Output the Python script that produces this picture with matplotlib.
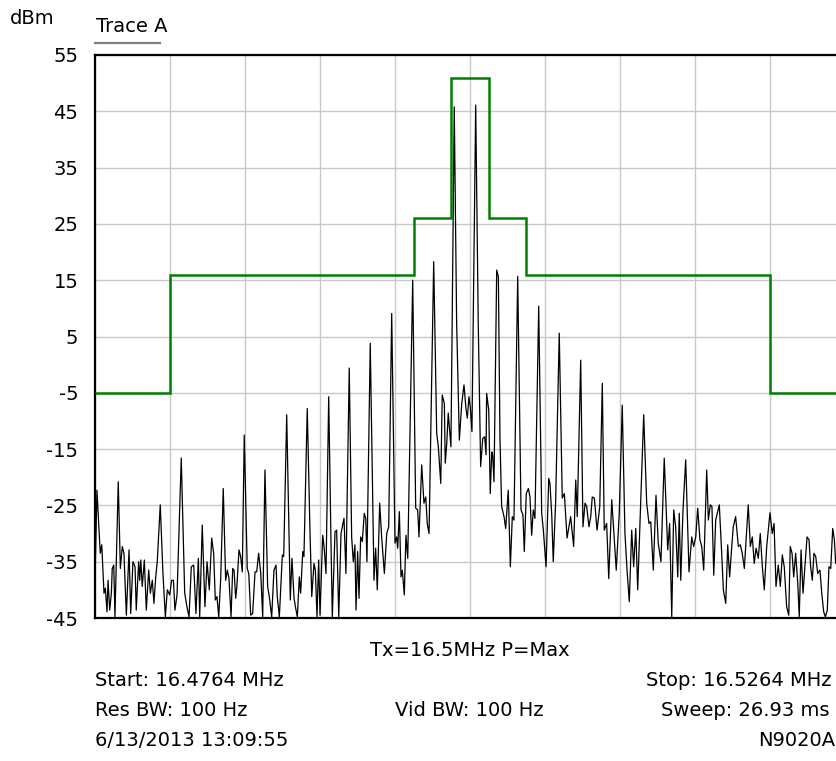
import matplotlib
matplotlib.use("Agg")
import matplotlib.pyplot as plt
from matplotlib.lines import Line2D

# frequency offset from start (kHz) and level (dBm) of the measured trace
trace_khz = [
    0.0, 0.13, 0.35, 0.45, 0.60, 0.69, 0.80, 0.87, 0.98, 1.09, 1.15, 1.25, 1.33, 1.55, 1.69, 1.82,
    1.93, 2.09, 2.27, 2.38, 2.53, 2.67, 2.75, 2.91, 2.98, 3.05, 3.15, 3.29, 3.42, 3.58, 3.69, 3.82,
    3.93, 4.05, 4.15, 4.35, 4.53, 4.69, 4.82, 4.98, 5.11, 5.23, 5.33, 5.47, 5.75, 5.98, 6.13, 6.27,
    6.42, 6.58, 6.73, 6.89, 6.98, 7.15, 7.33, 7.47, 7.62, 7.78, 7.91, 8.02, 8.13, 8.25, 8.38, 8.55,
    8.71, 8.82, 8.93, 9.07, 9.18, 9.27, 9.38, 9.45, 9.60, 9.71, 9.82, 9.95, 10.15, 10.25, 10.38, 10.51,
    10.67, 10.78, 10.91, 11.05, 11.18, 11.33, 11.51, 11.62, 11.78, 11.93, 12.07, 12.15, 12.29, 12.38, 12.49, 12.58,
    12.78, 12.93, 13.02, 13.13, 13.27, 13.38, 13.49, 13.62, 13.71, 13.85, 13.93, 14.15, 14.33, 14.45, 14.60, 14.69,
    14.80, 14.91, 15.00, 15.18, 15.27, 15.40, 15.58, 15.73, 15.82, 16.00, 16.11, 16.25, 16.40, 16.60, 16.73, 16.95,
    17.11, 17.22, 17.33, 17.40, 17.51, 17.60, 17.71, 17.82, 17.95, 18.05, 18.13, 18.35, 18.60, 18.71, 18.82, 18.98,
    19.11, 19.29, 19.45, 19.58, 19.78, 20.00, 20.11, 20.18, 20.29, 20.40, 20.49, 20.62, 20.73, 20.85, 21.18, 21.38,
    21.51, 21.60, 21.78, 21.93, 22.05, 22.15, 22.27, 22.58, 22.78, 22.89, 23.05, 23.15, 23.29, 23.35, 23.45, 23.55,
    23.73, 23.95, 24.11, 24.29, 24.45, 24.60, 24.73, 24.82, 24.93, 25.02, 25.13, 25.38, 25.55, 25.71, 25.85, 25.98,
    26.07, 26.11, 26.25, 26.35, 26.45, 26.51, 26.60, 26.78, 26.89, 27.00, 27.11, 27.27, 27.38, 27.55, 27.69, 27.82,
    27.93, 28.18, 28.40, 28.53, 28.62, 28.75, 28.89, 29.00, 29.11, 29.22, 29.33, 29.58, 29.78, 29.89, 30.07, 30.25,
    30.33, 30.45, 30.55, 30.71, 30.95, 31.15, 31.29, 31.47, 31.60, 31.71, 31.91, 32.05, 32.15, 32.38, 32.53, 32.67,
    32.78, 32.93, 33.05, 33.15, 33.29, 33.47, 33.65, 33.82, 33.95, 34.11, 34.25, 34.45, 34.62, 34.75, 34.95, 35.15,
    35.33, 35.47, 35.62, 35.78, 35.91, 36.05, 36.18, 36.35, 36.58, 36.78, 36.93, 37.05, 37.22, 37.40, 37.55, 37.73,
    37.95, 38.18, 38.31, 38.45, 38.58, 38.71, 38.85, 38.95, 39.05, 39.20, 39.38, 39.60, 39.78, 39.91, 40.05, 40.18,
    40.33, 40.45, 40.58, 40.78, 40.89, 41.02, 41.13, 41.25, 41.38, 41.51, 41.62, 41.78, 41.89, 42.05, 42.18, 42.31,
    42.45, 42.55, 42.71, 42.89, 43.02, 43.15, 43.29, 43.42, 43.55, 43.69, 43.82, 43.95, 44.07, 44.22, 44.35, 44.49,
    44.62, 44.78, 45.00, 45.15, 45.27, 45.40, 45.55, 45.69, 45.82, 45.95, 46.11, 46.25, 46.35, 46.47, 46.58, 46.71,
    46.85, 46.95, 47.07, 47.20, 47.33, 47.47, 47.60, 47.71, 47.82, 47.93, 48.05, 48.18, 48.33, 48.45, 48.58, 48.69,
    48.82, 48.93, 49.05, 49.18, 49.29, 49.38, 49.60, 50.00,
]
trace_dbm = [
    -38.3, -22.3, -33.5, -32.0, -40.6, -39.7, -43.9, -38.3, -43.6, -40.6, -36.2, -35.6, -44.8, -20.8, -36.2, -32.3,
    -33.5, -44.5, -32.9, -44.2, -35.0, -35.9, -43.6, -35.0, -38.3, -34.7, -39.4, -34.7, -43.6, -36.5, -40.6, -38.3,
    -42.4, -37.7, -35.0, -24.9, -37.1, -44.8, -40.0, -40.9, -38.3, -38.3, -43.6, -40.9, -16.6, -40.6, -43.0, -44.8,
    -35.9, -35.6, -44.2, -34.4, -44.8, -28.5, -43.0, -35.0, -40.0, -30.8, -33.5, -41.8, -41.2, -44.8, -38.0, -22.0,
    -38.3, -36.5, -37.9, -44.8, -36.2, -36.5, -41.5, -39.7, -32.9, -34.1, -36.8, -12.5, -36.2, -37.1, -44.5, -44.2,
    -36.8, -36.8, -33.5, -37.1, -44.8, -18.7, -39.4, -41.2, -44.8, -36.5, -35.6, -41.2, -44.8, -39.7, -33.8, -34.1,
    -8.9, -30.0, -41.8, -34.4, -41.5, -43.3, -44.8, -37.7, -40.6, -33.2, -34.1, -7.8, -29.4, -41.2, -35.3, -36.5,
    -44.8, -34.7, -44.5, -30.3, -32.3, -37.1, -5.7, -31.1, -44.8, -29.7, -29.4, -44.8, -30.0, -27.3, -37.1, -0.6,
    -30.6, -35.0, -32.0, -43.6, -33.2, -41.5, -30.6, -31.4, -26.4, -27.3, -35.0, 3.8, -38.3, -32.6, -40.0, -24.6,
    -30.6, -37.1, -30.0, -28.8, 9.1, -31.7, -30.6, -32.6, -26.1, -37.7, -36.5, -40.9, -30.3, -34.4, 15.0, -25.5,
    -25.8, -30.6, -17.8, -24.6, -23.5, -28.2, -30.0, 18.3, -12.2, -14.6, -21.1, -5.4, -6.9, -17.5, -14.0, -8.6,
    -14.6, 45.8, 7.3, -13.4, -6.9, -3.6, -7.8, -9.5, -5.7, -7.5, -11.9, 46.1, 7.3, -18.1, -13.1, -12.8,
    -16.0, -5.1, -8.1, -22.9, -15.5, -16.0, -20.8, 16.8, 15.6, -13.4, -25.2, -27.0, -29.1, -22.3, -35.9, -27.0,
    -27.6, 15.7, -25.8, -26.7, -33.2, -22.9, -22.0, -23.5, -30.3, -25.8, -27.3, 10.4, -26.4, -29.4, -35.9, -20.2,
    -21.1, -26.7, -35.0, -24.3, 5.6, -23.7, -22.9, -30.8, -28.8, -27.0, -32.3, -20.5, -27.0, 0.8, -28.8, -24.6,
    -25.2, -28.8, -27.0, -23.5, -23.7, -29.4, -25.2, -3.3, -29.4, -28.2, -38.0, -24.0, -31.1, -36.5, -26.4, -7.2,
    -30.0, -36.5, -42.1, -29.4, -35.9, -29.1, -40.0, -27.0, -8.9, -24.6, -28.2, -27.9, -36.5, -23.2, -31.7, -35.0,
    -16.6, -32.9, -28.2, -44.8, -25.8, -28.8, -37.7, -26.4, -38.3, -25.8, -16.9, -36.8, -30.6, -32.3, -30.6, -25.5,
    -31.1, -32.3, -36.5, -18.7, -27.6, -24.9, -25.2, -37.4, -27.6, -26.1, -24.9, -33.5, -40.0, -42.4, -32.0, -37.7,
    -32.3, -28.8, -27.0, -32.3, -32.0, -33.5, -36.2, -30.6, -24.9, -32.3, -30.6, -35.3, -32.6, -34.4, -30.0, -35.9,
    -40.0, -32.3, -26.3, -30.0, -28.2, -39.4, -35.6, -39.4, -33.8, -35.9, -43.0, -44.5, -32.3, -33.5, -37.7, -33.5,
    -38.8, -44.8, -32.9, -40.6, -35.9, -30.6, -31.1, -35.9, -38.3, -33.5, -34.1, -37.1, -36.5, -40.6, -43.9, -44.8,
    -43.6, -35.9, -36.2, -29.1, -31.1, -35.3, -32.0, -34.7,
]

# limit mask (green): segment edges in kHz from start and levels in dBm
mask_edges_khz = [0, 5, 21.25, 23.75, 26.25, 28.75, 45, 50]
mask_levels = [-5, 16, 26, 51, 26, 16, -5]

y_ticks = [55, 45, 35, 25, 15, 5, -5, -15, -25, -35, -45]
x_grid_khz = [0, 5, 10, 15, 20, 25, 30, 35, 40, 45, 50]

W, H = 837, 761
FONT = "DejaVu Sans"


def fy(ypx):
    return 1 - ypx / H


def plotSpectrum():
    fig = plt.figure(figsize=(W / 100, H / 100), dpi=100)
    ax = fig.add_axes([95 / W, 1 - 618 / H, 750 / W, 563 / H])

    ax.set_xlim(0, 50)
    ax.set_ylim(-45, 55)
    ax.set_xticks(x_grid_khz)
    ax.set_yticks(y_ticks)
    ax.set_xticklabels([])
    ax.set_yticklabels([str(v) for v in y_ticks], fontsize=14, family=FONT)
    ax.tick_params(length=0, pad=12)
    ax.grid(True, color="#c8c8c8", lw=1.0)
    ax.set_axisbelow(True)
    for s in ax.spines.values():
        s.set_linewidth(1.6)
        s.set_color("black")

    ax.plot(trace_khz, trace_dbm, color="black", lw=0.9, zorder=3)
    ax.stairs(mask_levels, mask_edges_khz, baseline=None, color="#008000", lw=1.8, zorder=4)

    # header
    fig.text(10 / W, fy(19), "dBm", fontsize=14, family=FONT, va="center", ha="left")
    fig.text(96 / W, fy(27), "Trace A", fontsize=14, family=FONT, va="center", ha="left")
    fig.add_artist(Line2D([95 / W, 160 / W], [fy(43), fy(43)], color="#808080", lw=1.6))

    # footer
    fig.text(470 / W, fy(650), "Tx=16.5MHz P=Max", fontsize=14, family=FONT, va="center", ha="center")
    fig.text(95 / W, fy(681), "Start: 16.4764 MHz", fontsize=14, family=FONT, va="center")
    fig.text(646 / W, fy(681), "Stop: 16.5264 MHz", fontsize=14, family=FONT, va="center")
    fig.text(95 / W, fy(711), "Res BW: 100 Hz", fontsize=14, family=FONT, va="center")
    fig.text(469 / W, fy(711), "Vid BW: 100 Hz", fontsize=14, family=FONT, va="center", ha="center")
    fig.text(661 / W, fy(711), "Sweep: 26.93 ms", fontsize=14, family=FONT, va="center")
    fig.text(95 / W, fy(741), "6/13/2013 13:09:55", fontsize=14, family=FONT, va="center")
    fig.text(758 / W, fy(741), "N9020A", fontsize=14, family=FONT, va="center")

    fig.savefig("out.png", dpi=100)


if __name__ == "__main__":
    plotSpectrum()
